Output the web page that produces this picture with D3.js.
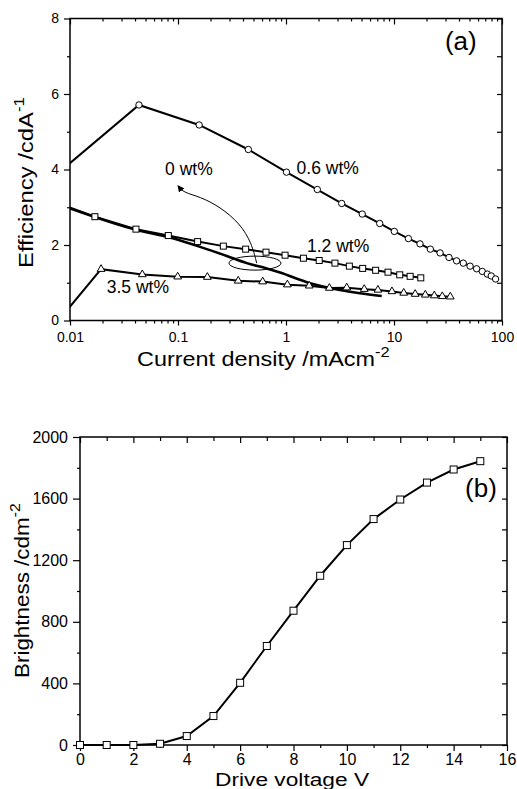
<!DOCTYPE html>
<html>
<head>
<meta charset="utf-8">
<script src="https://cdn.jsdelivr.net/npm/d3@7"></script>
<style>
  body { margin: 0; background: #fff; }
  svg { font-family: "Liberation Sans", Arial, sans-serif; }
  .tick line { stroke: #000; stroke-width: 1.2; }
  .tick text { fill: #000; }
</style>
</head>
<body>
<div id="chart"></div>
<script>
// ---- panel (a): efficiency vs current density ----
var x06 = [0.009, 0.0435, 0.157, 0.448, 1.01, 1.95, 3.28, 5.08, 7.37, 10.07, 13.6, 17.4, 21.7, 26.7, 32.3, 38, 43.8, 50.6, 58.2, 65.7, 73.1, 79.5, 87.2];
var y06 = [4.06, 5.71, 5.18, 4.53, 3.93, 3.47, 3.10, 2.82, 2.57, 2.36, 2.17, 2.03, 1.89, 1.79, 1.67, 1.58, 1.52, 1.44, 1.37, 1.30, 1.23, 1.18, 1.10];

var x12 = [0.009, 0.017, 0.0408, 0.0813, 0.152, 0.263, 0.423, 0.653, 0.98, 1.45, 2.03, 2.84, 3.86, 5.13, 6.76, 8.8, 11.3, 14.1, 17.7];
var y12 = [3.04, 2.75, 2.42, 2.25, 2.09, 1.97, 1.89, 1.81, 1.73, 1.65, 1.59, 1.52, 1.44, 1.38, 1.33, 1.28, 1.21, 1.17, 1.13];

var x35 = [0.009, 0.0194, 0.0467, 0.0993, 0.187, 0.361, 0.608, 1.03, 1.64, 2.52, 3.65, 5.3, 7.1, 9.57, 12.3, 15.7, 19.5, 23.6, 28, 33.2];
var y35 = [0.21, 1.36, 1.22, 1.16, 1.15, 1.05, 1.03, 0.95, 0.92, 0.86, 0.87, 0.83, 0.81, 0.77, 0.73, 0.70, 0.68, 0.66, 0.64, 0.63];

var x0 = [0.01, 0.0414, 0.0843, 0.16, 0.283, 0.433, 0.663, 0.88, 1.67, 3.16, 4.84, 7.7];
var y0 = [2.97, 2.40, 2.20, 1.95, 1.71, 1.52, 1.38, 1.27, 0.99, 0.81, 0.72, 0.65];

var aTicksX = [0.01, 0.1, 1, 10, 100];
var aTickLabelsX = ["0.01", "0.1", "1", "10", "100"];
var aTicksY = [0, 2, 4, 6, 8];

// ---- panel (b): brightness vs drive voltage ----
var voltage = [0, 1, 2, 3, 4, 5, 6, 7, 8, 9, 10, 11, 12, 13, 14, 15];
var brightness = [0, 0, 0, 8, 58, 188, 404, 643, 872, 1099, 1298, 1467, 1594, 1704, 1789, 1843];

var bTicksX = [0, 2, 4, 6, 8, 10, 12, 14, 16];
var bTicksY = [0, 400, 800, 1200, 1600, 2000];

var svg = d3.select("#chart").append("svg")
    .attr("width", 517)
    .attr("height", 789);

svg.append("defs").append("marker")
    .attr("id", "head")
    .attr("viewBox", "0 0 10 10")
    .attr("refX", 8).attr("refY", 5)
    .attr("markerWidth", 7).attr("markerHeight", 7)
    .attr("orient", "auto")
  .append("path")
    .attr("d", "M0,0L10,5L0,10z")
    .attr("fill", "#000");

function minorLog(lo, hi) {
    var out = [];
    for (var p = lo; p < hi; p *= 10) {
        for (var k = 2; k <= 9; k++) out.push(p * k);
    }
    return out;
}

function frame(box) {
    svg.append("rect")
        .attr("x", box.left).attr("y", box.top)
        .attr("width", box.right - box.left)
        .attr("height", box.bottom - box.top)
        .attr("fill", "none")
        .attr("stroke", "#000")
        .attr("stroke-width", 1.5);
}

function addAxis(axis, tx, ty, fontSize) {
    var g = svg.append("g")
        .attr("transform", "translate(" + tx + "," + ty + ")")
        .call(axis);
    g.select(".domain").remove();
    g.selectAll("text").style("font-size", fontSize + "px");
    return g;
}

// axis title, stretched along its reading direction to the target length
function title(parts, x, y, rot, len, size) {
    var t = svg.append("text")
        .style("font-size", size + "px")
        .attr("fill", "#000");
    t.append("tspan").text(parts[0]);
    if (parts[1]) t.append("tspan").attr("dy", -9).style("font-size", "14px").text(parts[1]);
    var w = t.node().getBBox().width;
    t.attr("transform", "translate(" + x + "," + y + ") rotate(" + rot + ") scale(" + (len / w) + ",1)");
}

// ================= panel (a) =================
var a = {left: 70, right: 502, top: 18.5, bottom: 320.5};
var xA = d3.scaleLog().domain([0.01, 100]).range([a.left, a.right]);
var yA = d3.scaleLinear().domain([0, 8]).range([a.bottom, a.top]);

svg.append("clipPath").attr("id", "clipA")
  .append("rect")
    .attr("x", a.left).attr("y", a.top)
    .attr("width", a.right - a.left).attr("height", a.bottom - a.top);

var minorA = minorLog(0.01, 100);

addAxis(d3.axisBottom(xA).tickValues(aTicksX).tickFormat(function(d, i) { return aTickLabelsX[i]; })
    .tickSize(5).tickSizeOuter(0).tickPadding(7), 0, a.bottom, 14);
addAxis(d3.axisBottom(xA).tickValues(minorA).tickFormat("").tickSize(3).tickSizeOuter(0), 0, a.bottom, 14);
addAxis(d3.axisTop(xA).tickValues(aTicksX).tickFormat("").tickSize(-6).tickSizeOuter(0), 0, a.top, 14);
addAxis(d3.axisTop(xA).tickValues(minorA).tickFormat("").tickSize(-3).tickSizeOuter(0), 0, a.top, 14);
addAxis(d3.axisLeft(yA).tickValues(aTicksY).tickFormat(d3.format("d"))
    .tickSize(6).tickSizeOuter(0).tickPadding(5), a.left, 0, 14);
addAxis(d3.axisLeft(yA).tickValues([1, 3, 5, 7]).tickFormat("").tickSize(3).tickSizeOuter(0), a.left, 0, 14);
addAxis(d3.axisRight(yA).tickValues([0, 1, 2, 3, 4, 5, 6, 7, 8]).tickFormat("").tickSize(-5).tickSizeOuter(0), a.right, 0, 14);
frame(a);

var lineA = d3.line()
    .x(function(d) { return xA(d[0]); })
    .y(function(d) { return yA(d[1]); });

var plotA = svg.append("g").attr("clip-path", "url(#clipA)");

plotA.append("path")
    .datum(d3.zip(x0, y0))
    .attr("d", lineA.curve(d3.curveMonotoneX))
    .attr("fill", "none").attr("stroke", "#000").attr("stroke-width", 2.6);
lineA.curve(d3.curveLinear);

[[x06, y06], [x12, y12], [x35, y35]].forEach(function(s) {
    plotA.append("path")
        .datum(d3.zip(s[0], s[1]))
        .attr("d", lineA)
        .attr("fill", "none").attr("stroke", "#000").attr("stroke-width", 2);
});

plotA.selectAll("circle.m06")
    .data(d3.zip(x06, y06))
    .enter().append("circle")
    .attr("cx", function(d) { return xA(d[0]); })
    .attr("cy", function(d) { return yA(d[1]); })
    .attr("r", 3.2)
    .attr("fill", "#fff").attr("stroke", "#000").attr("stroke-width", 1);

plotA.selectAll("rect.m12")
    .data(d3.zip(x12, y12))
    .enter().append("rect")
    .attr("x", function(d) { return xA(d[0]) - 3; })
    .attr("y", function(d) { return yA(d[1]) - 3; })
    .attr("width", 6).attr("height", 6)
    .attr("fill", "#fff").attr("stroke", "#000").attr("stroke-width", 1);

plotA.selectAll("path.m35")
    .data(d3.zip(x35, y35))
    .enter().append("path")
    .attr("transform", function(d) { return "translate(" + xA(d[0]) + "," + yA(d[1]) + ")"; })
    .attr("d", d3.symbol(d3.symbolTriangle).size(26))
    .attr("fill", "#fff").attr("stroke", "#000").attr("stroke-width", 1);

// ellipse + arrow marking the 0 wt% curve
svg.append("ellipse")
    .attr("cx", xA(0.516)).attr("cy", yA(1.52))
    .attr("rx", 26).attr("ry", 7)
    .attr("fill", "none").attr("stroke", "#000").attr("stroke-width", 1);

var arrowPts = [[0.535, 1.52], [0.481, 2.05], [0.375, 2.57], [0.245, 3.01], [0.16, 3.28], [0.112, 3.39], [0.1007, 3.56]];
svg.append("path")
    .datum(arrowPts)
    .attr("d", d3.line().x(function(d) { return xA(d[0]); }).y(function(d) { return yA(d[1]); }).curve(d3.curveBasis))
    .attr("fill", "none").attr("stroke", "#000").attr("stroke-width", 1)
    .attr("marker-end", "url(#head)");

var labelsA = [["0.6 wt%", 1.254, 3.88], ["1.2 wt%", 1.564, 1.81], ["3.5 wt%", 0.0219, 0.72], ["0 wt%", 0.0759, 3.85]];
labelsA.forEach(function(l) {
    svg.append("text")
        .attr("x", xA(l[1])).attr("y", yA(l[2]))
        .style("font-size", "17.5px")
        .text(l[0]);
});
svg.append("text")
    .attr("x", xA(29.6)).attr("y", yA(7.17))
    .style("font-size", "26px")
    .text("(a)");

title(["Efficiency /cdA", "-1"], 33, 268, -90, 171, 20);
title(["Current density /mAcm", "-2"], 137, 366, 0, 253, 20);

// ================= panel (b) =================
var b = {left: 80, right: 507, top: 437, bottom: 745};
var xB = d3.scaleLinear().domain([0, 16]).range([b.left, b.right]);
var yB = d3.scaleLinear().domain([0, 2000]).range([b.bottom, b.top]);

addAxis(d3.axisBottom(xB).tickValues(bTicksX).tickFormat(d3.format("d"))
    .tickSize(6).tickSizeOuter(0).tickPadding(2.5), 0, b.bottom, 16);
addAxis(d3.axisBottom(xB).tickValues([1, 3, 5, 7, 9, 11, 13, 15]).tickFormat("").tickSize(3).tickSizeOuter(0), 0, b.bottom, 16);
addAxis(d3.axisTop(xB).tickValues(bTicksX).tickFormat("").tickSize(-6).tickSizeOuter(0), 0, b.top, 16);
addAxis(d3.axisTop(xB).tickValues([1, 3, 5, 7, 9, 11, 13, 15]).tickFormat("").tickSize(-4).tickSizeOuter(0), 0, b.top, 16);
addAxis(d3.axisLeft(yB).tickValues(bTicksY).tickFormat(d3.format("d"))
    .tickSize(7).tickSizeOuter(0).tickPadding(5), b.left, 0, 16);
addAxis(d3.axisLeft(yB).tickValues([200, 600, 1000, 1400, 1800]).tickFormat("").tickSize(3).tickSizeOuter(0), b.left, 0, 16);
addAxis(d3.axisRight(yB).tickValues(d3.range(0, 2001, 200)).tickFormat("").tickSize(-5).tickSizeOuter(0), b.right, 0, 16);
frame(b);

var lineB = d3.line()
    .x(function(d) { return xB(d[0]); })
    .y(function(d) { return yB(d[1]); });

svg.append("path")
    .datum(d3.zip(voltage, brightness))
    .attr("d", lineB)
    .attr("fill", "none").attr("stroke", "#000").attr("stroke-width", 2);

svg.selectAll("rect.mb")
    .data(d3.zip(voltage, brightness))
    .enter().append("rect")
    .attr("x", function(d) { return xB(d[0]) - 3.5; })
    .attr("y", function(d) { return yB(d[1]) - 3.5; })
    .attr("width", 7).attr("height", 7)
    .attr("fill", "#fff").attr("stroke", "#000").attr("stroke-width", 1);

svg.append("text")
    .attr("x", xB(14.43)).attr("y", yB(1610))
    .style("font-size", "26px")
    .text("(b)");

title(["Brightness /cdm", "-2"], 29, 678, -90, 175, 20);
title(["Drive voltage V", ""], 215, 786, 0, 155, 18.5);
</script>
</body>
</html>
